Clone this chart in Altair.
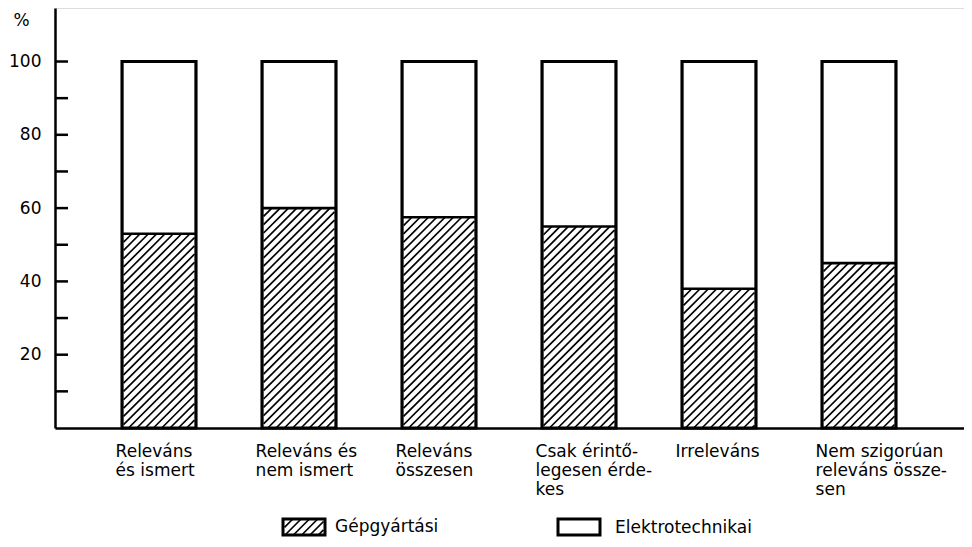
import altair as alt
import pandas as pd
import numpy as np

# ---------------- data ----------------
categories = [
    "Releváns\nés ismert",
    "Releváns és\nnem ismert",
    "Releváns\nösszesen",
    "Csak érintő-\nlegesen érde-\nkes",
    "Irreleváns",
    "Nem szigorúan\nreleváns össze-\nsen",
]
gepgyartasi = [53, 60, 57.5, 55, 38, 45]          # hatched part, %
elektrotechnikai = [47, 40, 42.5, 45, 62, 55]     # white part, %
series_names = ["Gépgyártási", "Elektrotechnikai"]
y_labels = [20, 40, 60, 80, 100]
y_ticks = [10, 20, 30, 40, 50, 60, 70, 80, 90, 100]

# ---------------- layout / style ----------------
W, H = 909, 420
X_DOM = (-0.743, 5.75)
Y_DOM = (0.0, 114.6)
BAR_HALF = 0.264
LABEL_SHIFT = 0.31
FONT = "DejaVu Sans"
FS = 17
HATCH_STEP = 8.3
sx = W / (X_DOM[1] - X_DOM[0])
sy = H / (Y_DOM[1] - Y_DOM[0])


def px_to_x(px):
    return X_DOM[0] + px / sx


def py_to_y(py):  # py measured from top of plot area
    return Y_DOM[1] - py / sy


idx = list(range(len(categories)))
bars = pd.DataFrame({
    "cat": categories,
    "xl": [i - BAR_HALF for i in idx],
    "xr": [i + BAR_HALF for i in idx],
    "xlab": [i - LABEL_SHIFT for i in idx],
    "y0": 0.0,
    "g": gepgyartasi,
    "top": [a + b for a, b in zip(gepgyartasi, elektrotechnikai)],
})


def hatch_segments(x0p, x1p, y0p, y1p):
    """diagonal '/' lines inside pixel rect (y up), returns list of pixel segments"""
    segs = []
    c = x0p - (y1p - y0p) - HATCH_STEP
    while c < x1p:
        lo = max(y0p, x0p - c)
        hi = min(y1p, x1p - c)
        if hi - lo > 0.5:
            segs.append((lo + c, lo, hi + c, hi))
        c += HATCH_STEP
    return segs


rows = []
for _, r in bars.iterrows():
    xlp = (r.xl - X_DOM[0]) * sx + 1.5
    xrp = (r.xr - X_DOM[0]) * sx - 1.5
    vp = r.g * sy
    for (ax, ay, bx, by) in hatch_segments(xlp, xrp, 0, vp):
        rows.append({"hx1": X_DOM[0] + ax / sx, "hy1": ay / sy,
                     "hx2": X_DOM[0] + bx / sx, "hy2": by / sy})

# legend boxes (pixel positions inside plot area, y from top)
LB1 = (228, 270, 511, 527)
LB2 = (503, 545, 511, 527)
for (ax, ay, bx, by) in hatch_segments(LB1[0] + 1.5, LB1[1] - 1.5, 0, LB1[3] - LB1[2]):
    rows.append({"hx1": px_to_x(ax), "hy1": py_to_y(LB1[3] - ay),
                 "hx2": px_to_x(bx), "hy2": py_to_y(LB1[3] - by)})
hatch = pd.DataFrame(rows)

ticks_df = pd.DataFrame({"t": y_ticks})
one = bars.head(1)

xs = alt.Scale(domain=list(X_DOM), nice=False, zero=False)
ys = alt.Scale(domain=list(Y_DOM), nice=False, zero=False)

x_axis = alt.Axis(labels=False, ticks=False, grid=False, title=None,
                  domainWidth=2.5, domainColor="black")
y_axis = alt.Axis(values=y_labels, ticks=False, tickSize=0, labelPadding=14,
                  labelFontSize=FS, labelFont=FONT, labelColor="black",
                  domainWidth=2.5, domainColor="black", grid=False,
                  title="%", titleAngle=0, titleX=-34, titleY=12,
                  titleFontSize=FS, titleFont=FONT, titleFontWeight="normal",
                  titleColor="black", titleAlign="center", titleBaseline="middle")

base_fill = alt.Chart(bars).mark_rect(fill="white").encode(
    x=alt.X("xl:Q", scale=xs, axis=x_axis),
    x2="xr:Q",
    y=alt.Y("y0:Q", scale=ys, axis=y_axis),
    y2="top:Q",
)

legend_fill1 = alt.Chart(one).mark_rect(fill="white").encode(
    x=alt.value(LB1[0]), x2=alt.value(LB1[1]), y=alt.value(LB1[2]), y2=alt.value(LB1[3]))
legend_fill2 = alt.Chart(one).mark_rect(fill="white").encode(
    x=alt.value(LB2[0]), x2=alt.value(LB2[1]), y=alt.value(LB2[2]), y2=alt.value(LB2[3]))

hatch_layer = alt.Chart(hatch).mark_rule(color="black", strokeWidth=1.7).encode(
    x=alt.X("hx1:Q", scale=xs), x2="hx2:Q",
    y=alt.Y("hy1:Q", scale=ys), y2="hy2:Q",
)

divider = alt.Chart(bars).mark_rule(color="black", strokeWidth=2.6).encode(
    x=alt.X("xl:Q", scale=xs), x2="xr:Q",
    y=alt.Y("g:Q", scale=ys),
)

outline = alt.Chart(bars).mark_rect(fillOpacity=0, stroke="black", strokeWidth=3.2).encode(
    x=alt.X("xl:Q", scale=xs), x2="xr:Q",
    y=alt.Y("y0:Q", scale=ys), y2="top:Q",
)

legend_out1 = alt.Chart(one).mark_rect(fillOpacity=0, stroke="black", strokeWidth=3).encode(
    x=alt.value(LB1[0]), x2=alt.value(LB1[1]), y=alt.value(LB1[2]), y2=alt.value(LB1[3]))
legend_out2 = alt.Chart(one).mark_rect(fillOpacity=0, stroke="black", strokeWidth=3).encode(
    x=alt.value(LB2[0]), x2=alt.value(LB2[1]), y=alt.value(LB2[2]), y2=alt.value(LB2[3]))

tick_layer = alt.Chart(ticks_df).mark_rule(color="black", strokeWidth=2.5).encode(
    y=alt.Y("t:Q", scale=ys),
    x=alt.value(0), x2=alt.value(13),
)

cat_text = alt.Chart(bars).mark_text(
    align="left", baseline="alphabetic", lineBreak="\n", lineHeight=19,
    font=FONT, fontSize=FS, color="black",
).encode(
    x=alt.X("xlab:Q", scale=xs),
    y=alt.value(449),
    text="cat:N",
)

legend_t1 = alt.Chart(one).mark_text(
    align="left", baseline="alphabetic", font=FONT, fontSize=FS, color="black",
    text=series_names[0]).encode(x=alt.value(280), y=alt.value(524))
legend_t2 = alt.Chart(one).mark_text(
    align="left", baseline="alphabetic", font=FONT, fontSize=FS, color="black",
    text=series_names[1]).encode(x=alt.value(560), y=alt.value(525))

chart = alt.layer(
    base_fill, legend_fill1, legend_fill2, hatch_layer, divider, outline,
    legend_out1, legend_out2, tick_layer, cat_text, legend_t1, legend_t2,
).properties(
    width=W, height=H,
    autosize=alt.AutoSizeParams(type="none"),
    padding={"left": 47, "top": 0, "right": 0, "bottom": 110},
).configure_view(stroke=None).configure(background="white")

chart.save("out.html", embed_options={"renderer": "svg", "actions": False})
